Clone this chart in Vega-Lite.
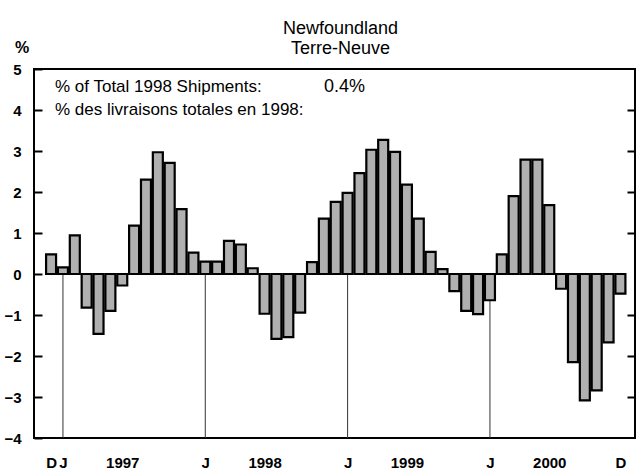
{
  "$schema": "https://vega.github.io/schema/vega-lite/v6.json",
  "width": 601,
  "height": 369,
  "autosize": {"type": "none"},
  "padding": {"left": 34, "top": 69, "right": 1, "bottom": 37},
  "background": "white",
  "config": {
    "font": "Liberation Sans",
    "view": {"stroke": "black", "strokeWidth": 2}
  },
  "title": {
    "text": ["Newfoundland", "Terre-Neuve"],
    "frame": "group",
    "fontSize": 18,
    "fontWeight": "normal",
    "font": "Liberation Sans",
    "color": "black",
    "anchor": "middle",
    "lineHeight": 20,
    "offset": -19,
    "dx": 6
  },
  "datasets": {
    "bars": [
      {"i": 0, "v": 0.48}, {"i": 1, "v": 0.16}, {"i": 2, "v": 0.94}, {"i": 3, "v": -0.82},
      {"i": 4, "v": -1.46}, {"i": 5, "v": -0.9}, {"i": 6, "v": -0.28}, {"i": 7, "v": 1.18},
      {"i": 8, "v": 2.3}, {"i": 9, "v": 2.97}, {"i": 10, "v": 2.71}, {"i": 11, "v": 1.58},
      {"i": 12, "v": 0.52}, {"i": 13, "v": 0.3}, {"i": 14, "v": 0.3}, {"i": 15, "v": 0.81},
      {"i": 16, "v": 0.72}, {"i": 17, "v": 0.14}, {"i": 18, "v": -0.97}, {"i": 19, "v": -1.58},
      {"i": 20, "v": -1.54}, {"i": 21, "v": -0.94}, {"i": 22, "v": 0.29}, {"i": 23, "v": 1.35},
      {"i": 24, "v": 1.76}, {"i": 25, "v": 1.98}, {"i": 26, "v": 2.46}, {"i": 27, "v": 3.03},
      {"i": 28, "v": 3.27}, {"i": 29, "v": 2.98}, {"i": 30, "v": 2.18}, {"i": 31, "v": 1.35},
      {"i": 32, "v": 0.54}, {"i": 33, "v": 0.12}, {"i": 34, "v": -0.42}, {"i": 35, "v": -0.9},
      {"i": 36, "v": -0.98}, {"i": 37, "v": -0.64}, {"i": 38, "v": 0.48}, {"i": 39, "v": 1.9},
      {"i": 40, "v": 2.79}, {"i": 41, "v": 2.79}, {"i": 42, "v": 1.68}, {"i": 43, "v": -0.36},
      {"i": 44, "v": -2.15}, {"i": 45, "v": -3.08}, {"i": 46, "v": -2.84}, {"i": 47, "v": -1.67},
      {"i": 48, "v": -0.48}
    ],
    "janlines": [{"i": 1}, {"i": 13}, {"i": 25}, {"i": 37}],
    "notes": [{"t": "% of Total 1998 Shipments:"}],
    "notes2": [{"t": "% des livraisons totales en 1998:"}],
    "notes3": [{"t": "0.4%"}]
  },
  "resolve": {"axis": {"y": "independent", "x": "independent"}},
  "layer": [
    {
      "data": {"name": "janlines"},
      "mark": {"type": "rule", "color": "#333333", "strokeWidth": 1},
      "encoding": {
        "x": {"field": "i", "type": "quantitative", "scale": {"domain": [-1.44, 49.23], "nice": false, "zero": false, "padding": 0}, "axis": null},
        "y": {"datum": 0, "type": "quantitative", "scale": {"domain": [-4, 5], "nice": false}, "axis": null},
        "y2": {"datum": -4}
      }
    },
    {
      "data": {"name": "bars"},
      "mark": {"type": "bar", "size": 10, "fill": "#b0b0b0", "stroke": "black", "strokeWidth": 2.2},
      "encoding": {
        "x": {
          "field": "i", "type": "quantitative",
          "scale": {"domain": [-1.44, 49.23], "nice": false, "zero": false, "padding": 0},
          "axis": {
            "title": null,
            "values": [0, 1, 6, 13, 18, 25, 30, 37, 42, 48],
            "labelExpr": "datum.value==0||datum.value==48?'D':datum.value==6?'1997':datum.value==18?'1998':datum.value==30?'1999':datum.value==42?'2000':'J'",
            "ticks": false,
            "domain": false,
            "grid": false,
            "labelOverlap": false,
            "labelFontSize": 15,
            "labelFontWeight": "bold",
            "labelColor": "black",
            "labelPadding": 17,
            "labelFlush": false
          }
        },
        "y": {
          "field": "v", "type": "quantitative",
          "scale": {"domain": [-4, 5], "nice": false},
          "axis": {
            "title": "%",
            "titleAngle": 0,
            "titleX": -12.5,
            "titleY": -17,
            "titleAlign": "center",
            "titleBaseline": "alphabetic",
            "titleFontSize": 16,
            "titleFontWeight": "bold",
            "titleColor": "black",
            "values": [-4, -3, -2, -1, 0, 1, 2, 3, 4, 5],
            "grid": false,
            "domain": false,
            "tickSize": -8,
            "tickWidth": 2,
            "tickColor": "black",
            "labelPadding": 21,
            "labelFontSize": 15,
            "labelFontWeight": "bold",
            "labelColor": "black",
            "labelFlush": false
          }
        }
      }
    },
    {
      "mark": {"type": "rule", "color": "black", "strokeWidth": 2},
      "encoding": {
        "y": {
          "datum": 0, "type": "quantitative",
          "scale": {"domain": [-4, 5], "nice": false},
          "axis": {
            "orient": "right",
            "title": null,
            "labels": false,
            "values": [-3, -2, -1, 1, 2, 3, 4],
            "grid": false,
            "domain": false,
            "tickSize": -8,
            "tickWidth": 2,
            "tickColor": "black"
          }
        }
      }
    },
    {
      "data": {"name": "notes"},
      "mark": {"type": "text", "align": "left", "baseline": "middle", "fontSize": 17, "color": "black"},
      "encoding": {
        "x": {"datum": 0.33, "type": "quantitative", "axis": null},
        "y": {"datum": 4.56, "type": "quantitative", "axis": null},
        "text": {"field": "t", "type": "nominal"}
      }
    },
    {
      "data": {"name": "notes2"},
      "mark": {"type": "text", "align": "left", "baseline": "middle", "fontSize": 17, "color": "black"},
      "encoding": {
        "x": {"datum": 0.33, "type": "quantitative", "axis": null},
        "y": {"datum": 4.0, "type": "quantitative", "axis": null},
        "text": {"field": "t", "type": "nominal"}
      }
    },
    {
      "data": {"name": "notes3"},
      "mark": {"type": "text", "align": "left", "baseline": "middle", "fontSize": 18, "color": "black"},
      "encoding": {
        "x": {"datum": 23.0, "type": "quantitative", "axis": null},
        "y": {"datum": 4.56, "type": "quantitative", "axis": null},
        "text": {"field": "t", "type": "nominal"}
      }
    }
  ]
}
